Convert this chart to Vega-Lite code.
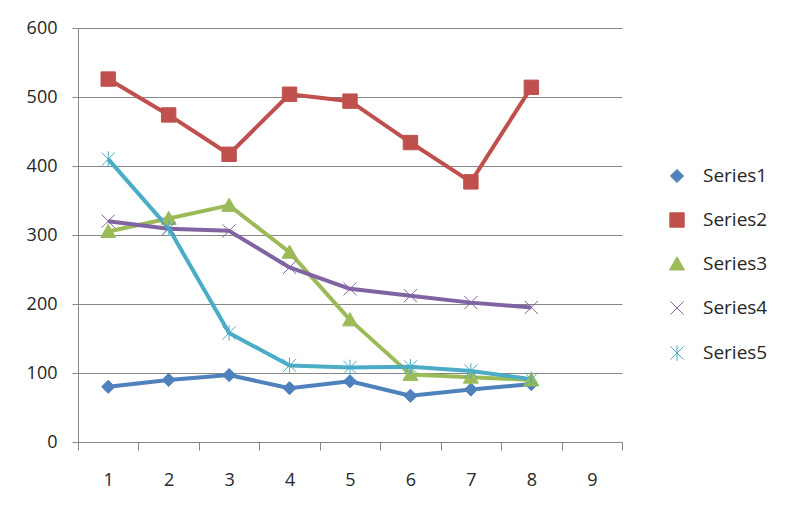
{
  "$schema": "https://vega.github.io/schema/vega-lite/v6.json",
  "width": 544,
  "height": 414,
  "autosize": "none",
  "padding": {"left": 78, "top": 28, "right": 168, "bottom": 79},
  "background": "white",
  "config": {
    "font": "Open Sans",
    "view": {"stroke": null},
    "axis": {
      "domainColor": "#868686",
      "tickColor": "#868686",
      "gridColor": "#868686",
      "gridOpacity": 1,
      "labelFont": "Open Sans",
      "labelFontSize": 18,
      "labelColor": "#262626",
      "title": null
    }
  },
  "data": {
    "values": [
      {"series": "Series1", "x": 1, "y": 80},
      {"series": "Series1", "x": 2, "y": 90},
      {"series": "Series1", "x": 3, "y": 97},
      {"series": "Series1", "x": 4, "y": 78},
      {"series": "Series1", "x": 5, "y": 88},
      {"series": "Series1", "x": 6, "y": 67},
      {"series": "Series1", "x": 7, "y": 76},
      {"series": "Series1", "x": 8, "y": 84},
      {"series": "Series2", "x": 1, "y": 526},
      {"series": "Series2", "x": 2, "y": 474},
      {"series": "Series2", "x": 3, "y": 417},
      {"series": "Series2", "x": 4, "y": 504},
      {"series": "Series2", "x": 5, "y": 494},
      {"series": "Series2", "x": 6, "y": 434},
      {"series": "Series2", "x": 7, "y": 377},
      {"series": "Series2", "x": 8, "y": 514},
      {"series": "Series3", "x": 1, "y": 305},
      {"series": "Series3", "x": 2, "y": 324},
      {"series": "Series3", "x": 3, "y": 343},
      {"series": "Series3", "x": 4, "y": 275},
      {"series": "Series3", "x": 5, "y": 177},
      {"series": "Series3", "x": 6, "y": 98},
      {"series": "Series3", "x": 7, "y": 94},
      {"series": "Series3", "x": 8, "y": 90},
      {"series": "Series4", "x": 1, "y": 320},
      {"series": "Series4", "x": 2, "y": 309},
      {"series": "Series4", "x": 3, "y": 306},
      {"series": "Series4", "x": 4, "y": 253},
      {"series": "Series4", "x": 5, "y": 222},
      {"series": "Series4", "x": 6, "y": 212},
      {"series": "Series4", "x": 7, "y": 202},
      {"series": "Series4", "x": 8, "y": 195},
      {"series": "Series5", "x": 1, "y": 410},
      {"series": "Series5", "x": 2, "y": 310},
      {"series": "Series5", "x": 3, "y": 158},
      {"series": "Series5", "x": 4, "y": 111},
      {"series": "Series5", "x": 5, "y": 108},
      {"series": "Series5", "x": 6, "y": 109},
      {"series": "Series5", "x": 7, "y": 103},
      {"series": "Series5", "x": 8, "y": 91}
    ]
  },
  "encoding": {
    "x": {
      "field": "x",
      "type": "ordinal",
      "scale": {"domain": [1, 2, 3, 4, 5, 6, 7, 8, 9], "paddingInner": 0, "paddingOuter": 0},
      "axis": {"labelAngle": 0, "tickBand": "extent", "grid": false, "tickSize": 8, "labelPadding": 21}
    },
    "y": {
      "field": "y",
      "type": "quantitative",
      "scale": {"domain": [0, 600], "nice": false},
      "axis": {"values": [0, 100, 200, 300, 400, 500, 600], "tickSize": 6, "labelPadding": 15, "grid": true}
    },
    "color": {
      "field": "series",
      "type": "nominal",
      "scale": {
        "domain": ["Series1", "Series2", "Series3", "Series4", "Series5"],
        "range": ["#4F81BD", "#C0504D", "#9BBB59", "#8064A2", "#4BACC6"]
      },
      "legend": {
        "orient": "none",
        "legendX": 589.5,
        "legendY": 138.5,
        "title": null,
        "padding": 0,
        "symbolSize": 144,
        "labelOffset": 16.5,
        "rowPadding": 24,
        "labelFont": "Open Sans",
        "labelFontSize": 19,
        "labelColor": "#262626",
        "symbolStrokeWidth": 1,
        "symbolOpacity": 1
      }
    }
  },
  "layer": [
    {
      "mark": {"type": "line", "strokeWidth": 4, "strokeJoin": "round"},
      "encoding": {"detail": {"field": "series", "type": "nominal"}}
    },
    {
      "mark": {"type": "point", "filled": true, "size": 144, "strokeWidth": 1, "opacity": 1},
      "encoding": {
        "shape": {
          "field": "series",
          "type": "nominal",
          "scale": {
            "domain": ["Series1", "Series2", "Series3", "Series4", "Series5"],
            "range": [
              "M0,-1.1L1.1,0L0,1.1L-1.1,0Z",
              "M-1.2,-1.2L1.2,-1.2L1.2,1.2L-1.2,1.2Z",
              "M0,-1.2L1.25,1.0L-1.25,1.0Z",
              "M-1.1,-1.1L1.1,1.1M-1.1,1.1L1.1,-1.1",
              "M-1.1,-1.1L1.1,1.1M-1.1,1.1L1.1,-1.1M0,-1.3L0,1.3"
            ]
          },
          "legend": null
        },
        "stroke": {
          "field": "series",
          "type": "nominal",
          "scale": {
            "domain": ["Series1", "Series2", "Series3", "Series4", "Series5"],
            "range": ["#4F81BD", "#C0504D", "#9BBB59", "#8064A2", "#4BACC6"]
          },
          "legend": null
        }
      }
    }
  ]
}
